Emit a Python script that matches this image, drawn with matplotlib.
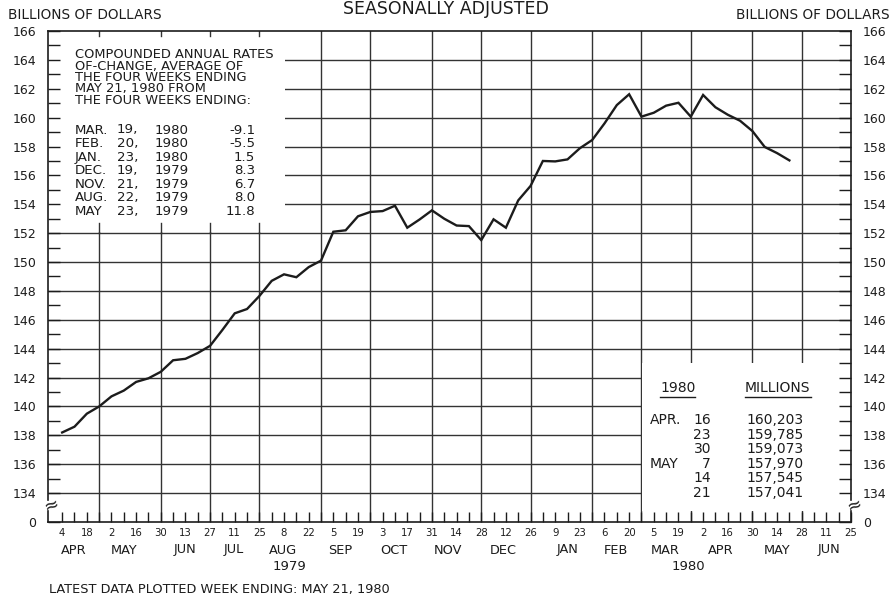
import matplotlib
matplotlib.use("Agg")
import matplotlib.pyplot as plt
from matplotlib.patches import Rectangle
from matplotlib.lines import Line2D
from matplotlib.transforms import IdentityTransform
from matplotlib.ticker import FixedLocator

plt.rcParams['font.family'] = ['DejaVu Sans']

# ---------------- data ----------------
# week index 0 = Wednesday Apr 4, 1979 ; one step = one week
week_index = list(range(60))
money_stock = [138.2, 138.6, 139.5, 140.0, 140.7, 141.1, 141.7, 141.95, 142.4, 143.2,
               143.3, 143.7, 144.2, 145.3, 146.45, 146.75, 147.65, 148.7, 149.15, 148.95,
               149.65, 150.1, 152.1, 152.2, 153.17, 153.47, 153.53, 153.9, 152.38, 152.95,
               153.58, 153.0, 152.53, 152.49, 151.52, 152.96, 152.38, 154.27, 155.27, 157.0,
               156.97, 157.11, 157.88, 158.45, 159.6, 160.87, 161.62, 160.07, 160.34, 160.83,
               161.03, 160.07, 161.57, 160.72, 160.203, 159.785, 159.073, 157.970, 157.545, 157.041]

all_weeks = list(range(65))
day_labels = ["4", "18", "2", "16", "30", "13", "27", "11", "25", "8", "22", "5", "19",
              "3", "17", "31", "14", "28", "12", "26", "9", "23", "6", "20", "5", "19",
              "2", "16", "30", "14", "28", "11", "25"]
month_labels = ["APR", "MAY", "JUN", "JUL", "AUG", "SEP", "OCT", "NOV", "DEC",
                "JAN", "FEB", "MAR", "APR", "MAY", "JUN"]
month_pos = [0.9, 5.0, 10.0, 13.9, 17.9, 22.6, 26.9, 31.3, 35.8, 41.0, 44.9, 48.9, 53.4, 58.0, 62.2]
year_labels = ["1979", "1980"]
year_pos = [18.4, 50.8]
month_end_weeks = [3, 8, 12, 16, 21, 25, 30, 34, 38, 43, 47, 51, 56, 60]

y_grid = list(range(134, 165, 2))
y_ticks = list(range(132, 167, 2))
y_ticklabels = ["0"] + [str(v) for v in range(134, 167, 2)]
y_minor = list(range(135, 166, 2))

header_lines = ["COMPOUNDED ANNUAL RATES", "OF-CHANGE, AVERAGE OF", "THE FOUR WEEKS ENDING",
                "MAY 21, 1980 FROM", "THE FOUR WEEKS ENDING:"]
rate_months = ["MAR.", "FEB.", "JAN.", "DEC.", "NOV.", "AUG.", "MAY"]
rate_days = ["19,", "20,", "23,", "19,", "21,", "22,", "23,"]
rate_years = ["1980", "1980", "1980", "1979", "1979", "1979", "1979"]
rate_values = ["-9.1", "-5.5", "1.5", "8.3", "6.7", "8.0", "11.8"]

table_months = ["APR.", "", "", "MAY", "", ""]
table_days = ["16", "23", "30", "7", "14", "21"]
table_millions = [f"{round(v * 1000):,}" for v in money_stock[-6:]]

# ---------------- figure ----------------
W, H = 893, 601
fig = plt.figure(figsize=(W / 100, H / 100), dpi=100)
fig.patch.set_facecolor('white')


def P(x, y):
    return (x / W, 1 - y / H)


ax = fig.add_axes([48 / W, (H - 522) / H, 803 / W, 491 / H])
ax.set_xlim(-1.15, 64)
ax.set_ylim(132, 166)
ax.set_axisbelow(False)

ink = '#1c1c1c'
gridc = '#333333'

# grid
for v in y_grid:
    ax.axhline(v, color=gridc, lw=1.0, zorder=1)
for w in month_end_weeks:
    ax.axvline(w, color=gridc, lw=1.0, zorder=1)

# white boxes (text box top-left, table box bottom-right)
x0 = ax.get_xlim()[0]
tb_right = 18.1
ax.add_patch(Rectangle((x0, 152.06), tb_right - x0, 166 - 152.06, facecolor='white',
                       edgecolor='none', zorder=2))
ax.add_patch(Rectangle((47.08, 132.75), 64 - 47.08, 143 - 132.75, facecolor='white',
                       edgecolor='none', zorder=2))
# grid stubs inside text box
for w in month_end_weeks:
    if w < tb_right:
        ax.plot([w, w], [165.62, 166], color=gridc, lw=1.0, zorder=3)
        ax.plot([w, w], [152, 152.7], color=gridc, lw=1.0, zorder=3)

# data line
ax.plot(week_index, money_stock, color=ink, lw=1.7, zorder=4, solid_joinstyle='miter')

# spines
for s in ['left', 'right']:
    ax.spines[s].set_visible(False)
for s in ['top', 'bottom']:
    ax.spines[s].set_color(ink)
    ax.spines[s].set_linewidth(1.2)
    ax.spines[s].set_zorder(3)
yt = ax.get_yaxis_transform()
for xa in (0, 1):
    ax.add_line(Line2D([xa, xa], [133.5, 166], transform=yt, color=ink, lw=1.2, zorder=3,
                       clip_on=False))
    ax.add_line(Line2D([xa, xa], [132, 132.75], transform=yt, color=ink, lw=1.2, zorder=3,
                       clip_on=False))
    ax.text(xa + 0.004, 133.12, "≈", transform=yt, ha='center', va='center', fontsize=13,
            color=ink, zorder=5, rotation=20)

# ticks
ax.set_yticks(y_ticks)
ax.set_yticklabels(y_ticklabels)
ax.yaxis.set_minor_locator(FixedLocator(y_minor))
ax.tick_params(axis='y', which='both', direction='in', length=8.6, width=1.0, color=ink,
               left=True, right=True, labelleft=True, labelright=True, labelsize=9, pad=8.5,
               labelcolor=ink)
ax.set_xticks(all_weeks)
xl = []
di = 0
for w in all_weeks:
    if w % 2 == 0:
        xl.append(day_labels[di])
        di += 1
    else:
        xl.append("")
ax.set_xticklabels(xl)
ax.tick_params(axis='x', which='both', direction='in', length=7.2, width=1.0, color=ink,
               bottom=True, top=False, labelsize=7.3, pad=4, labelcolor=ink)

xt = ax.get_xaxis_transform()
for lab, pos in zip(month_labels, month_pos):
    ax.text(pos, (522 - 550) / 491, lab, transform=xt, ha='center', va='center',
            fontsize=9.3, color=ink)
for lab, pos in zip(year_labels, year_pos):
    ax.text(pos, (522 - 567) / 491, lab, transform=xt, ha='center', va='center',
            fontsize=9.5, color=ink)

# figure texts
fig.text(*P(8, 15), "BILLIONS OF DOLLARS", ha='left', va='center', fontsize=9.8, color=ink)
fig.text(*P(890, 15), "BILLIONS OF DOLLARS", ha='right', va='center', fontsize=9.8, color=ink)
fig.text(*P(446, 9), "SEASONALLY ADJUSTED", ha='center', va='center', fontsize=12.5, color=ink)
fig.text(*P(49, 590), "LATEST DATA PLOTTED WEEK ENDING: MAY 21, 1980", ha='left',
         va='center', fontsize=9.3, color=ink)

# text box contents
for i, line in enumerate(header_lines):
    fig.text(*P(75, 55 + i * 11.3), line, ha='left', va='center', fontsize=9.4, color=ink,
             zorder=5)
for i in range(len(rate_months)):
    y = 130 + i * 13.6
    fig.text(*P(75, y), rate_months[i], ha='left', va='center', fontsize=9.6, color=ink)
    fig.text(*P(117, y), rate_days[i], ha='left', va='center', fontsize=9.6, color=ink)
    fig.text(*P(155, y), rate_years[i], ha='left', va='center', fontsize=9.6, color=ink)
    fig.text(*P(255, y), rate_values[i], ha='right', va='center', fontsize=9.6, color=ink)

# table
h1 = fig.text(*P(660, 388), "1980", ha='left', va='center', fontsize=10, color=ink)
h2 = fig.text(*P(745, 388), "MILLIONS", ha='left', va='center', fontsize=10, color=ink)
for i in range(len(table_days)):
    y = 420 + i * 14.6
    if table_months[i]:
        fig.text(*P(650, y), table_months[i], ha='left', va='center', fontsize=10, color=ink)
    fig.text(*P(711, y), table_days[i], ha='right', va='center', fontsize=10, color=ink)
    fig.text(*P(746, y), table_millions[i], ha='left', va='center', fontsize=10, color=ink)

fig.canvas.draw()
for t in (h1, h2):
    bb = t.get_window_extent()
    fig.add_artist(Line2D([bb.x0, bb.x1], [bb.y0 - 1.5, bb.y0 - 1.5],
                          transform=IdentityTransform(), color=ink, lw=1.0))

fig.savefig("out.png", dpi=100, facecolor='white')
